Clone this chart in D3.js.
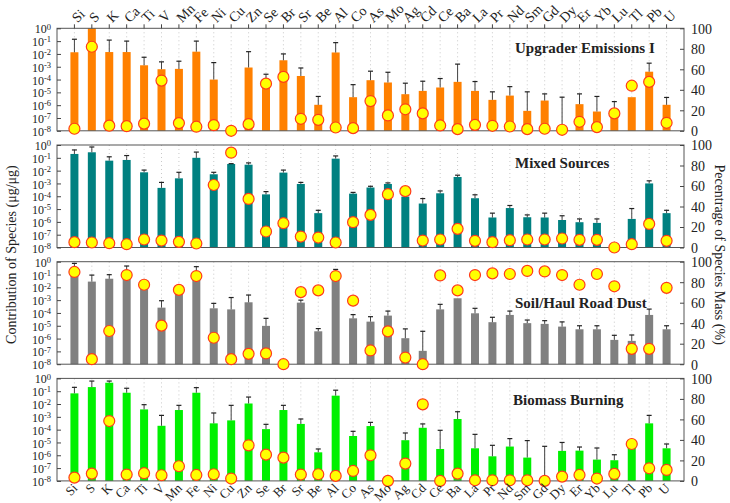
<!DOCTYPE html>
<html>
<head>
<meta charset="utf-8">
<script src="https://cdn.jsdelivr.net/npm/d3@7"></script>
<style>
  html, body { margin: 0; padding: 0; background: #fff; }
  svg text { font-family: "Liberation Serif", "Times New Roman", serif; fill: #222; }
</style>
</head>
<body>
<svg id="chart" width="730" height="503"></svg>
<script>
// Trace elements shared by every source profile
const elements = ["Si","S","K","Ca","Ti","V","Mn","Fe","Ni","Cu","Zn","Se","Br","Sr","Be","Al","Co","As","Mo","Ag","Cd","Ce","Ba","La","Pr","Nd","Sm","Gd","Dy","Er","Yb","Lu","Tl","Pb","U"];

// Left-axis decades and right-axis percentage ticks
const logTicks = [1e0,1e-1,1e-2,1e-3,1e-4,1e-5,1e-6,1e-7,1e-8];
const pctTicks = [0,20,40,60,80,100];

// Upgrader Emissions I: contribution (µg/µg), upper error bound, % of species mass
const upgraderValue = [1.35e-2,1.0,1.4e-2,1.4e-2,1.3e-3,6.4e-4,6.8e-4,1.5e-2,1e-4,null,8.7e-4,8e-5,3.2e-3,1.9e-4,1.07e-6,1.3e-2,4.2e-6,8.9e-5,5.9e-5,7.2e-6,1.3e-5,2.4e-5,6.6e-5,1.3e-5,2.6e-6,5.6e-6,3.6e-7,2.3e-6,null,1.2e-6,3.2e-7,1.3e-7,4.2e-6,4.1e-4,1.07e-6];
const upgraderError = [0.14,null,0.12,0.1,5.5e-3,2.4e-3,2.7e-3,0.1,2.1e-3,null,1.5e-2,2.6e-4,1e-2,8e-4,4.8e-6,7.6e-2,4e-5,4.5e-4,3.7e-4,5.2e-5,7.4e-5,1.2e-4,1.6e-3,7e-5,1.1e-5,2.8e-5,1.1e-5,7.6e-6,4.2e-6,7.6e-6,4.8e-6,1.9e-6,null,1.9e-3,4e-6];
const upgraderPct = [2,82,5,4.5,7,49,7.5,4,5.5,0,6.5,46,52.6,11.7,10.7,3.2,2.6,29,15,21,17,5.2,1.6,5.8,4.9,4.2,1.6,2,1,8.8,3.6,17,44,47.7,7.8];

// Mixed Sources
const mixedValue = [0.2,0.27,6e-2,6.8e-2,7.4e-3,4.5e-4,2.5e-3,0.1,5.2e-3,3.3e-2,2.9e-2,1.4e-4,7e-3,9.1e-4,4.8e-6,8.6e-2,1.6e-4,4.8e-4,9.1e-4,9.4e-5,2.7e-5,1.7e-4,3.2e-3,7e-5,2.2e-6,1.2e-5,2.3e-6,2.2e-6,1.4e-6,9.4e-7,8.3e-7,null,1.7e-6,1e-3,4.8e-6];
const mixedError = [0.41,0.7,0.12,0.15,1.1e-2,1.2e-3,7.4e-3,0.28,7.4e-3,3.5e-2,4e-2,2.3e-4,1.1e-2,1.2e-3,8e-6,0.14,2e-4,6e-4,1.1e-3,null,6.6e-5,2.6e-4,4.4e-3,1.3e-4,4.8e-6,1.9e-5,3.5e-6,4.8e-6,3e-6,1.7e-6,1.7e-6,null,1.1e-5,1.6e-3,8e-6];
const mixedPct = [5.2,4.9,4.2,3.2,7.8,6.8,5.5,3.9,61,92.5,47.4,15.6,23.7,10.7,9.7,4.9,24.7,31.8,52,55,6.8,7.8,18.2,6.5,5.2,7.1,7.8,7.8,8.8,7.5,7.5,0,3.2,23,6.5];

// Soil/Haul Road Dust
const soilValue = [0.12,2.8e-2,4.7e-2,0.14,1.3e-2,2.6e-4,5.5e-3,0.11,2.3e-4,1.9e-4,6.8e-4,9.8e-6,null,6.4e-4,3.7e-6,5e-2,3.8e-5,2.1e-5,6.2e-5,1.07e-6,1.1e-7,1.9e-4,1.4e-3,9.4e-5,1.9e-5,7e-5,1.6e-5,1.4e-5,8.6e-6,5.3e-6,5.3e-6,7.9e-7,6.6e-7,7e-5,5.3e-6];
const soilError = [0.74,9e-2,9.7e-2,0.46,null,9e-4,null,0.41,5.6e-4,1.6e-3,2.5e-3,3.8e-5,null,1e-3,6e-6,0.25,7.4e-5,5.1e-5,1.4e-4,5.7e-6,3.7e-6,4.7e-4,null,2.3e-4,4.6e-5,1.4e-4,2.8e-5,2.5e-5,2e-5,1e-5,1e-5,1.8e-6,1.9e-6,2e-4,1e-5];
const soilPct = [90,4.9,32.4,87,77.5,37.6,72.5,86,25.8,4.9,10.1,10.5,0,70.3,72,86,62,13.4,32,6.5,0,86.6,72,87,88.6,88,91,90.5,87,77.5,88,76,15,15,74.5];

// Biomass Burning
const biomassValue = [6.8e-2,0.21,0.46,7.6e-2,3.8e-3,2e-4,3.4e-3,7.6e-2,3.1e-4,5.3e-4,1.1e-2,1.1e-4,3.4e-3,2.8e-4,1.7e-6,4.5e-2,3.2e-5,1.9e-4,null,1.5e-5,1.4e-4,3.1e-6,6.8e-4,3.5e-6,8.3e-7,4.8e-6,6.6e-7,null,2.2e-6,2.3e-6,4.6e-7,4.1e-7,1.4e-5,3.1e-4,3.5e-6];
const biomassError = [0.2,0.62,0.62,0.17,8.9e-3,1.3e-3,7.9e-3,0.19,2e-3,7.9e-3,3.5e-2,2.6e-4,7.9e-3,6.8e-4,3.1e-6,0.12,7.4e-5,3.7e-4,null,5.5e-5,2.8e-4,8.9e-5,2.5e-3,4.3e-5,6e-6,2e-5,1.4e-5,5e-6,1e-5,4.4e-6,3.7e-6,1.1e-6,null,1.3e-3,7.6e-6];
const biomassPct = [3.2,7.1,58.4,6.2,7.5,5.5,14.3,5.8,6.5,2.3,34.7,25.6,22.7,6.2,6.5,4.9,9.7,25,0,16.9,74.7,0,7.1,0.6,0.6,0.6,0.6,0,4.2,5.8,2.3,6.8,36,12.3,10.7];

const panels = [
  { title: "Upgrader Emissions I", color: "#ff8000", value: upgraderValue, error: upgraderError, pct: upgraderPct, tx: 515, ty: 25 },
  { title: "Mixed Sources",        color: "#008080", value: mixedValue,    error: mixedError,    pct: mixedPct,    tx: 515, ty: 23 },
  { title: "Soil/Haul Road Dust",  color: "#808080", value: soilValue,     error: soilError,     pct: soilPct,     tx: 515, ty: 46 },
  { title: "Biomass Burning",      color: "#00f000", value: biomassValue,  error: biomassError,  pct: biomassPct,  tx: 513, ty: 27 }
];

const svg = d3.select("#chart");
const left = 57, right = 684;
const firstTop = 28.3, step = 116.7, panelH = 102.5;
const barW = 8, capW = 5;

const x = d3.scalePoint().domain(elements).range([left, right]).padding(1);

panels.forEach((p, i) => {
  const top = firstTop + i * step, bottom = top + panelH;
  const y = d3.scaleLog().domain([1e-8, 1]).range([bottom, top]);
  const yp = d3.scaleLinear().domain([0, 100]).range([bottom, top]);
  const g = svg.append("g");

  // dotted guides at each element
  g.selectAll("line.guide").data(elements).join("line")
    .attr("x1", d => x(d)).attr("x2", d => x(d))
    .attr("y1", top).attr("y2", bottom)
    .attr("stroke", "#bbb").attr("stroke-width", 0.8).attr("stroke-dasharray", "1,3");

  // bars
  const rows = elements.map((e, k) => ({ e, v: p.value[k], err: p.error[k], pct: p.pct[k] }));
  g.selectAll("rect.bar").data(rows.filter(r => r.v != null)).join("rect")
    .attr("x", r => x(r.e) - barW / 2).attr("width", barW)
    .attr("y", r => y(r.v)).attr("height", r => bottom - y(r.v))
    .attr("fill", p.color);

  // upper error bars
  const eb = g.selectAll("g.err").data(rows.filter(r => r.err != null)).join("g");
  eb.append("line")
    .attr("x1", r => x(r.e)).attr("x2", r => x(r.e))
    .attr("y1", r => y(r.v != null ? r.v : 1e-8)).attr("y2", r => y(r.err))
    .attr("stroke", "#444").attr("stroke-width", 1);
  eb.append("line")
    .attr("x1", r => x(r.e) - capW / 2).attr("x2", r => x(r.e) + capW / 2)
    .attr("y1", r => y(r.err)).attr("y2", r => y(r.err))
    .attr("stroke", "#222").attr("stroke-width", 1.2);

  // frame
  g.append("rect").attr("x", left).attr("y", top).attr("width", right - left).attr("height", panelH)
    .attr("fill", "none").attr("stroke", "#555").attr("stroke-width", 1);

  // left log axis
  const la = g.append("g").attr("transform", `translate(${left},0)`)
    .call(d3.axisLeft(y).tickValues(logTicks).tickSizeInner(-4).tickSizeOuter(0).tickFormat(""));
  la.select(".domain").remove();
  la.selectAll("line").attr("stroke", "#444");
  la.selectAll(".tick").append("text")
    .attr("x", -6).attr("dy", "0.38em").attr("text-anchor", "end")
    .style("font-size", "12px")
    .each(function(d) {
      const t = d3.select(this);
      t.append("tspan").text("10");
      t.append("tspan").attr("dy", "-0.45em").style("font-size", "8.5px").text(Math.round(Math.log10(d)));
    });

  // right percentage axis
  const ra = g.append("g").attr("transform", `translate(${right},0)`)
    .call(d3.axisRight(yp).tickValues(pctTicks).tickSizeInner(-4).tickSizeOuter(0).tickFormat(""));
  ra.select(".domain").remove();
  ra.selectAll("line").attr("stroke", "#444");
  ra.selectAll(".tick").append("text")
    .attr("x", 7).attr("dy", "0.35em").attr("text-anchor", "start")
    .style("font-size", "14px").text(d => d);

  // panel title
  g.append("text").attr("x", p.tx).attr("y", top + p.ty)
    .style("font-size", "15px").style("font-weight", "bold").text(p.title);

  // percentage markers
  g.selectAll("circle.pct").data(rows).join("circle")
    .attr("cx", r => x(r.e)).attr("cy", r => yp(r.pct)).attr("r", 5.5)
    .attr("fill", "#ffff00").attr("stroke", "#ff3a1a").attr("stroke-width", 1.2);

  // element labels above the first panel and below the last
  if (i === 0) {
    g.selectAll("line.tt").data(elements).join("line")
      .attr("x1", d => x(d)).attr("x2", d => x(d)).attr("y1", top).attr("y2", top - 4)
      .attr("stroke", "#444");
    g.selectAll("text.cat").data(elements).join("text")
      .attr("transform", d => `translate(${x(d) + 3},${top - 5}) rotate(-45)`)
      .attr("text-anchor", "start").style("font-size", "14px").text(d => d);
  }
  if (i === panels.length - 1) {
    g.selectAll("text.cat").data(elements).join("text")
      .attr("transform", d => `translate(${x(d) + 4},${bottom + 8}) rotate(-45)`)
      .attr("text-anchor", "end").style("font-size", "13px").text(d => d);
  }
});

// axis titles
const midY = firstTop + (3 * step + panelH) / 2;
svg.append("text").attr("transform", `translate(16,${midY}) rotate(-90)`)
  .attr("text-anchor", "middle").style("font-size", "14px").text("Contribution of Species (μg/μg)");
svg.append("text").attr("transform", `translate(715,${midY}) rotate(90)`)
  .attr("text-anchor", "middle").style("font-size", "14px").text("Pecentrage of Species Mass (%)");
</script>
</body>
</html>
